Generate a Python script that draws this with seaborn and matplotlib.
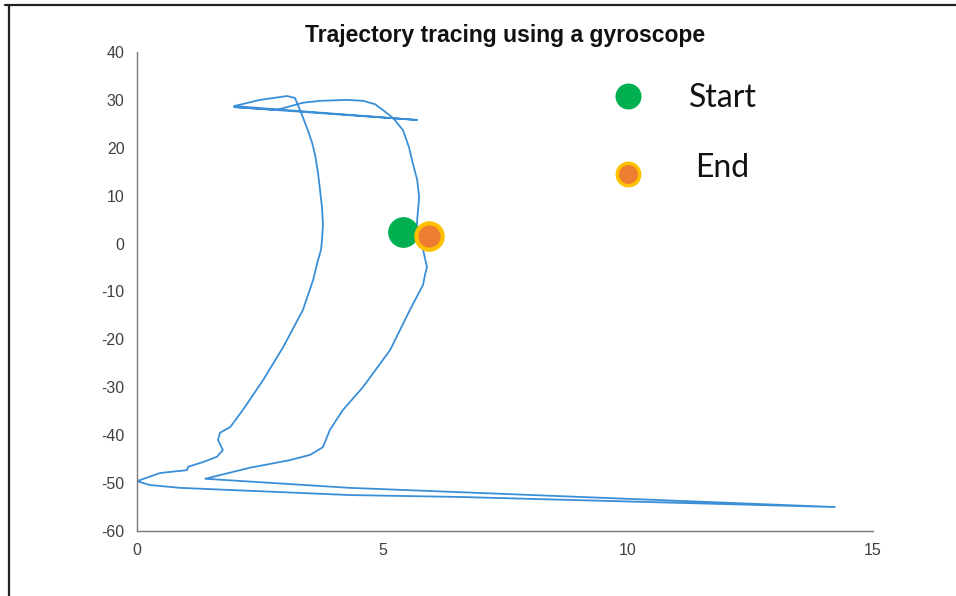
import numpy as np
import pandas as pd
import matplotlib
matplotlib.use("Agg")
import matplotlib.pyplot as plt
from matplotlib.lines import Line2D
import seaborn as sns

# trajectory (x, y), in drawing order
path_x = [5.69, 5.71, 5.75, 5.71, 5.62, 5.54, 5.42, 5.22, 5.01, 4.85, 4.61, 4.28,
          3.73, 3.38, 2.85, 1.98,
          5.71, 1.98, 2.51, 3.06, 3.22, 3.38, 3.48, 3.57, 3.63, 3.69, 3.73, 3.77,
          3.79, 3.77, 3.75, 3.69, 3.59,
          3.38, 2.98, 2.57, 2.16, 1.90, 1.69, 1.65, 1.75, 1.63, 1.35, 1.04, 1.02,
          0.47, 0.00, 0.26, 0.88, 4.34, 6.58, 14.22, 6.58, 4.34, 1.39, 2.30, 3.12,
          3.53, 3.79, 3.93, 4.20, 4.61, 5.16, 5.56, 5.83, 5.87, 5.91, 5.83, 5.78]
path_y = [1.4, 4.9, 9.7, 13.3, 16.8, 20.2, 23.7, 26.2, 27.9, 29.1, 29.8, 30.0,
          29.8, 29.4, 27.9, 28.5,
          25.8, 28.7, 30.0, 30.8, 30.4, 26.4, 23.7, 21.0, 18.5, 14.7, 11.2, 7.6,
          3.9, 0.75, -1.3, -3.4, -7.6,
          -13.9, -21.6, -28.5, -34.7, -38.3, -39.5, -41.0, -43.1, -44.5, -45.6, -46.6, -47.3,
          -47.9, -49.6, -50.4, -51.0, -52.5, -52.9, -55.0, -51.9, -51.0, -49.1, -46.8, -45.2,
          -44.1, -42.5, -38.9, -34.7, -29.9, -22.2, -13.9, -8.6, -6.5, -4.9, -1.3, 0.4]

start_pt = (5.42, 2.42)
end_pt = (5.95, 1.59)
key_start = (10.0, 30.8)
key_end = (10.0, 14.5)

x_ticks = [0, 5, 10, 15]
y_ticks = list(range(-60, 41, 10))

df = pd.DataFrame({"x": path_x, "y": path_y, "step": range(len(path_x))})

sns.set_style("white")
plt.rcParams["font.family"] = ["Liberation Sans", "DejaVu Sans"]
plt.rcParams["axes.unicode_minus"] = False

fig = plt.figure(figsize=(9.56, 5.96), dpi=100)
ax = fig.add_axes([0.1433, 0.1091, 0.7699, 0.8037])

sns.lineplot(data=df, x="x", y="y", sort=False, estimator=None,
             color="#3b8fd6", linewidth=1.3, ax=ax)

green = "#00b050"
orange = "#ed7d31"
gold = "#ffc000"
sns.scatterplot(x=[start_pt[0]], y=[start_pt[1]], s=420, color=green,
                edgecolor=green, ax=ax, zorder=5)
sns.scatterplot(x=[end_pt[0]], y=[end_pt[1]], s=360, color=orange,
                edgecolor=gold, linewidth=3, ax=ax, zorder=5)
sns.scatterplot(x=[key_start[0]], y=[key_start[1]], s=300, color=green,
                edgecolor=green, ax=ax, zorder=5)
sns.scatterplot(x=[key_end[0]], y=[key_end[1]], s=260, color=orange,
                edgecolor=gold, linewidth=2.5, ax=ax, zorder=5)

ax.text(11.24, 30.3, "Start", fontsize=23, family=["Lato", "DejaVu Sans"],
        va="center", ha="left", color="#111111")
ax.text(11.38, 15.8, "End", fontsize=23, family=["Lato", "DejaVu Sans"],
        va="center", ha="left", color="#111111")

ax.set_xlim(0, 15)
ax.set_ylim(-60, 40)
ax.set_xticks(x_ticks)
ax.set_yticks(y_ticks)
ax.set_xlabel("")
ax.set_ylabel("")
ax.set_title("Trajectory tracing using a gyroscope", fontsize=16.5,
             fontweight="bold", color="#111111", pad=7)

for side in ["top", "right"]:
    ax.spines[side].set_visible(False)
for side in ["left", "bottom"]:
    ax.spines[side].set_color("#7a7a7a")
    ax.spines[side].set_linewidth(1.0)
ax.tick_params(direction="in", length=5, width=1, colors="#7a7a7a",
               labelcolor="#404040", labelsize=11.5)
ax.tick_params(axis="y", pad=9)
ax.tick_params(axis="x", pad=9)

# frame lines of the original screenshot
fig.add_artist(Line2D([0.005, 1.0], [0.991, 0.991], color="#222222", lw=1.6,
                      transform=fig.transFigure))
fig.add_artist(Line2D([0.009, 0.009], [0.0, 0.991], color="#222222", lw=1.6,
                      transform=fig.transFigure))

fig.savefig("out.png", dpi=100)
